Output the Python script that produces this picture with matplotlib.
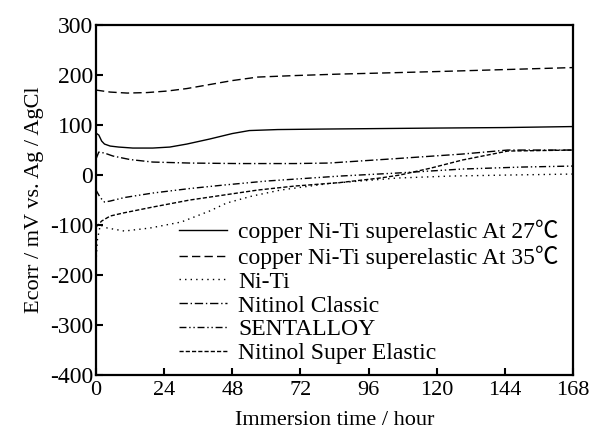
import matplotlib
matplotlib.use("Agg")
import matplotlib.pyplot as plt

plt.rcParams['font.family'] = ['Liberation Serif', 'Noto Sans CJK SC', 'DejaVu Serif']
plt.rcParams['axes.unicode_minus'] = False

# ---- data ----
t_cu27 = [0, 1, 2, 3, 5, 8, 13, 20, 26, 32, 40, 48, 54, 64, 80, 100, 120, 144, 168]
v_cu27 = [84, 80, 68, 62, 58, 56, 54, 54, 56, 62, 72, 83, 89, 91, 92, 93, 94, 95, 97]

t_cu35 = [0, 5, 11, 18, 25, 32, 40, 48, 57, 70, 86, 100, 120, 144, 168]
v_cu35 = [170, 166, 164, 165, 168, 173, 181, 189, 196, 199, 202, 204, 207, 211, 215]

t_niti = [0, 0.5, 1.5, 4, 10, 19, 30, 40, 46, 55, 65, 82, 106, 125, 145, 168]
v_niti = [-175, -130, -100, -106, -112, -106, -94, -72, -56, -42, -30, -17, -6, -2, 0, 2]

t_classic = [0, 1, 3, 6, 12, 20, 33, 50, 70, 82, 106, 129, 145, 168]
v_classic = [32, 46, 44, 38, 31, 26, 24, 23, 23, 24, 33, 42, 50, 50]

t_sent = [0, 1.5, 3, 5, 10, 20, 33, 45, 60, 86, 106, 129, 150, 168]
v_sent = [-30, -45, -54, -52, -45, -36, -27, -20, -12, -2, 4, 12, 16, 18]

t_se = [0, 2, 5, 9.5, 20, 33, 45, 57, 70, 86, 100, 107, 118, 129, 145, 168]
v_se = [-104, -92, -82, -76, -64, -50, -40, -30, -22, -15, -6, 0, 14, 30, 48, 50]

labels = ["copper Ni-Ti superelastic At 27\u2103",
          "copper Ni-Ti superelastic At 35\u2103",
          "Ni-Ti",
          "Nitinol Classic",
          "SENTALLOY",
          "Nitinol Super Elastic"]

x_ticks = [0, 24, 48, 72, 96, 120, 144, 168]
y_ticks = [-400, -300, -200, -100, 0, 100, 200, 300]

fig = plt.figure(figsize=(5.95, 4.4), dpi=100)
ax = fig.add_axes([0.1613, 0.1477, 0.8017, 0.7953])

lw = 1.0
ax.plot(t_cu27, v_cu27, color='black', lw=lw, linestyle='-', label=labels[0])
ax.plot(t_cu35, v_cu35, color='black', lw=lw, linestyle=(0, (6, 3)), label=labels[1])
ax.plot(t_niti, v_niti, color='black', lw=lw, linestyle=(0, (1, 3)), label=labels[2])
ax.plot(t_classic, v_classic, color='black', lw=lw, linestyle=(0, (6, 2, 1, 2)), label=labels[3])
ax.plot(t_sent, v_sent, color='black', lw=lw, linestyle=(0, (5, 2, 1, 2, 1, 2)), label=labels[4])
ax.plot(t_se, v_se, color='black', lw=lw, linestyle=(0, (3, 1.5)), label=labels[5])

ax.set_xlim(0, 168)
ax.set_ylim(-400, 300)
ax.set_xticks(x_ticks)
ax.set_yticks(y_ticks)
ax.tick_params(direction='in', length=5, width=1.5, labelsize=16)
ax.tick_params(axis='x', pad=4)
ax.tick_params(axis='y', labelsize=17, pad=2)
for s in ax.spines.values():
    s.set_linewidth(1.6)

ax.set_xlabel("Immersion time / hour", fontsize=16, labelpad=8)
ax.set_ylabel("Ecorr / mV vs. Ag / AgCl", fontsize=16, labelpad=4)

leg = ax.legend(loc='lower right', bbox_to_anchor=(1.0, -0.01), frameon=False, fontsize=17,
                handlelength=2.0, handletextpad=0.5, labelspacing=0.1, borderaxespad=0.2)

fig.savefig("out.png", dpi=100)
